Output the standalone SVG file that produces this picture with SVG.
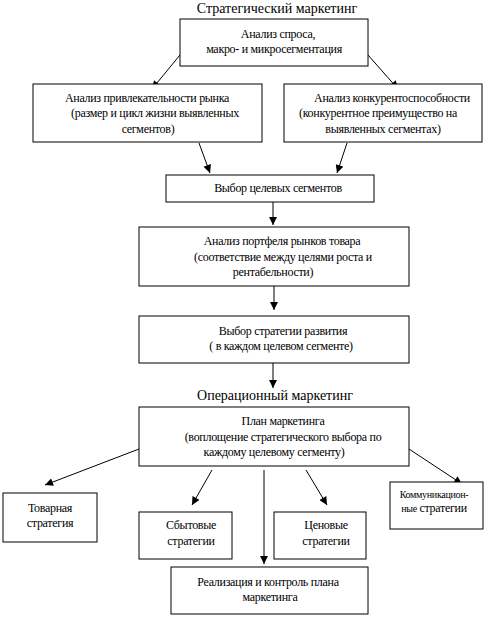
<svg xmlns="http://www.w3.org/2000/svg" width="492" height="620" viewBox="0 0 492 620">
<style>
rect{fill:#fff;stroke:#000;stroke-width:1}
text{font-family:'Liberation Serif','DejaVu Serif',serif;font-size:12px;fill:#000;text-anchor:middle;letter-spacing:-0.3px}
.h{font-size:14px;letter-spacing:0}
.sm{font-size:10px}
#connectors line{stroke:#000;stroke-width:1}
</style>
<defs>
<marker id="ar" viewBox="0 0 10 10" refX="10" refY="5" markerWidth="9" markerHeight="8" markerUnits="userSpaceOnUse" orient="auto">
<path d="M0,0 L10,5 L0,10 z" fill="#000"/>
</marker>
</defs>
<text class="h" x="277" y="13">Стратегический маркетинг</text>
<text class="h" x="275" y="400">Операционный маркетинг</text>
<g id="connectors">
<line x1="180" y1="55" x2="152" y2="89" marker-end="url(#ar)"/>
<line x1="368" y1="55" x2="398" y2="89" marker-end="url(#ar)"/>
<line x1="199" y1="143" x2="210" y2="173" marker-end="url(#ar)"/>
<line x1="347" y1="143" x2="337" y2="173" marker-end="url(#ar)"/>
<line x1="273" y1="202" x2="273" y2="225" marker-end="url(#ar)"/>
<line x1="274" y1="286" x2="274" y2="310" marker-end="url(#ar)"/>
<line x1="273" y1="363" x2="273" y2="388" marker-end="url(#ar)"/>
<line x1="139" y1="449" x2="45" y2="485" marker-end="url(#ar)"/>
<line x1="409" y1="449" x2="462" y2="484" marker-end="url(#ar)"/>
<line x1="212" y1="470" x2="192" y2="505" marker-end="url(#ar)"/>
<line x1="264" y1="470" x2="264" y2="564" marker-end="url(#ar)"/>
<line x1="306" y1="470" x2="327" y2="505" marker-end="url(#ar)"/>
</g>
<g id="n1"><rect x="180" y="19" width="188" height="47"/>
<text x="278" y="38">Анализ спроса,</text>
<text x="274" y="53">макро- и микросегментация</text></g>
<g id="n2"><rect x="33" y="84" width="229" height="58"/>
<text x="147" y="102">Анализ привлекательности рынка</text>
<text x="155" y="117">(размер и цикл жизни выявленных</text>
<text x="148" y="133">сегментов)</text></g>
<g id="n3"><rect x="284" y="84" width="198" height="58"/>
<text x="392" y="102">Анализ конкурентоспособности</text>
<text x="378" y="117">(конкурентное преимущество на</text>
<text x="383" y="133">выявленных сегментах)</text></g>
<g id="n4"><rect x="166" y="175" width="208" height="27"/>
<text x="278" y="192">Выбор целевых  сегментов</text></g>
<g id="n5"><rect x="139" y="227" width="270" height="59"/>
<text x="282" y="245">Анализ портфеля рынков товара</text>
<text x="283" y="261">(соответствие между целями роста и</text>
<text x="273" y="276">рентабельности)</text></g>
<g id="n6"><rect x="139" y="316" width="270" height="47"/>
<text x="283" y="335">Выбор стратегии развития</text>
<text x="281" y="350">( в каждом целевом сегменте)</text></g>
<g id="n7"><rect x="139" y="407" width="270" height="59"/>
<text x="283" y="425">План маркетинга</text>
<text x="283" y="441">(воплощение стратегического выбора по</text>
<text x="274" y="456">каждому целевому сегменту)</text></g>
<g id="n8"><rect x="3" y="493" width="94" height="49"/>
<text x="50" y="512">Товарная</text>
<text x="50" y="527">стратегия</text></g>
<g id="n9"><rect x="139" y="512" width="93" height="47"/>
<text x="191" y="529">Сбытовые</text>
<text x="191" y="545">стратегии</text></g>
<g id="n10"><rect x="274" y="512" width="92" height="47"/>
<text x="326" y="529">Ценовые</text>
<text x="326" y="545">стратегии</text></g>
<g id="n11"><rect x="390" y="482" width="93" height="47"/>
<text class="sm" x="434" y="498">Коммуникацион-</text>
<text x="434" y="512"><tspan class="sm">ные</tspan> стратегии</text></g>
<g id="n12"><rect x="171" y="567" width="197" height="47"/>
<text x="268" y="586">Реализация и контроль плана</text>
<text x="270" y="601">маркетинга</text></g>
</svg>
